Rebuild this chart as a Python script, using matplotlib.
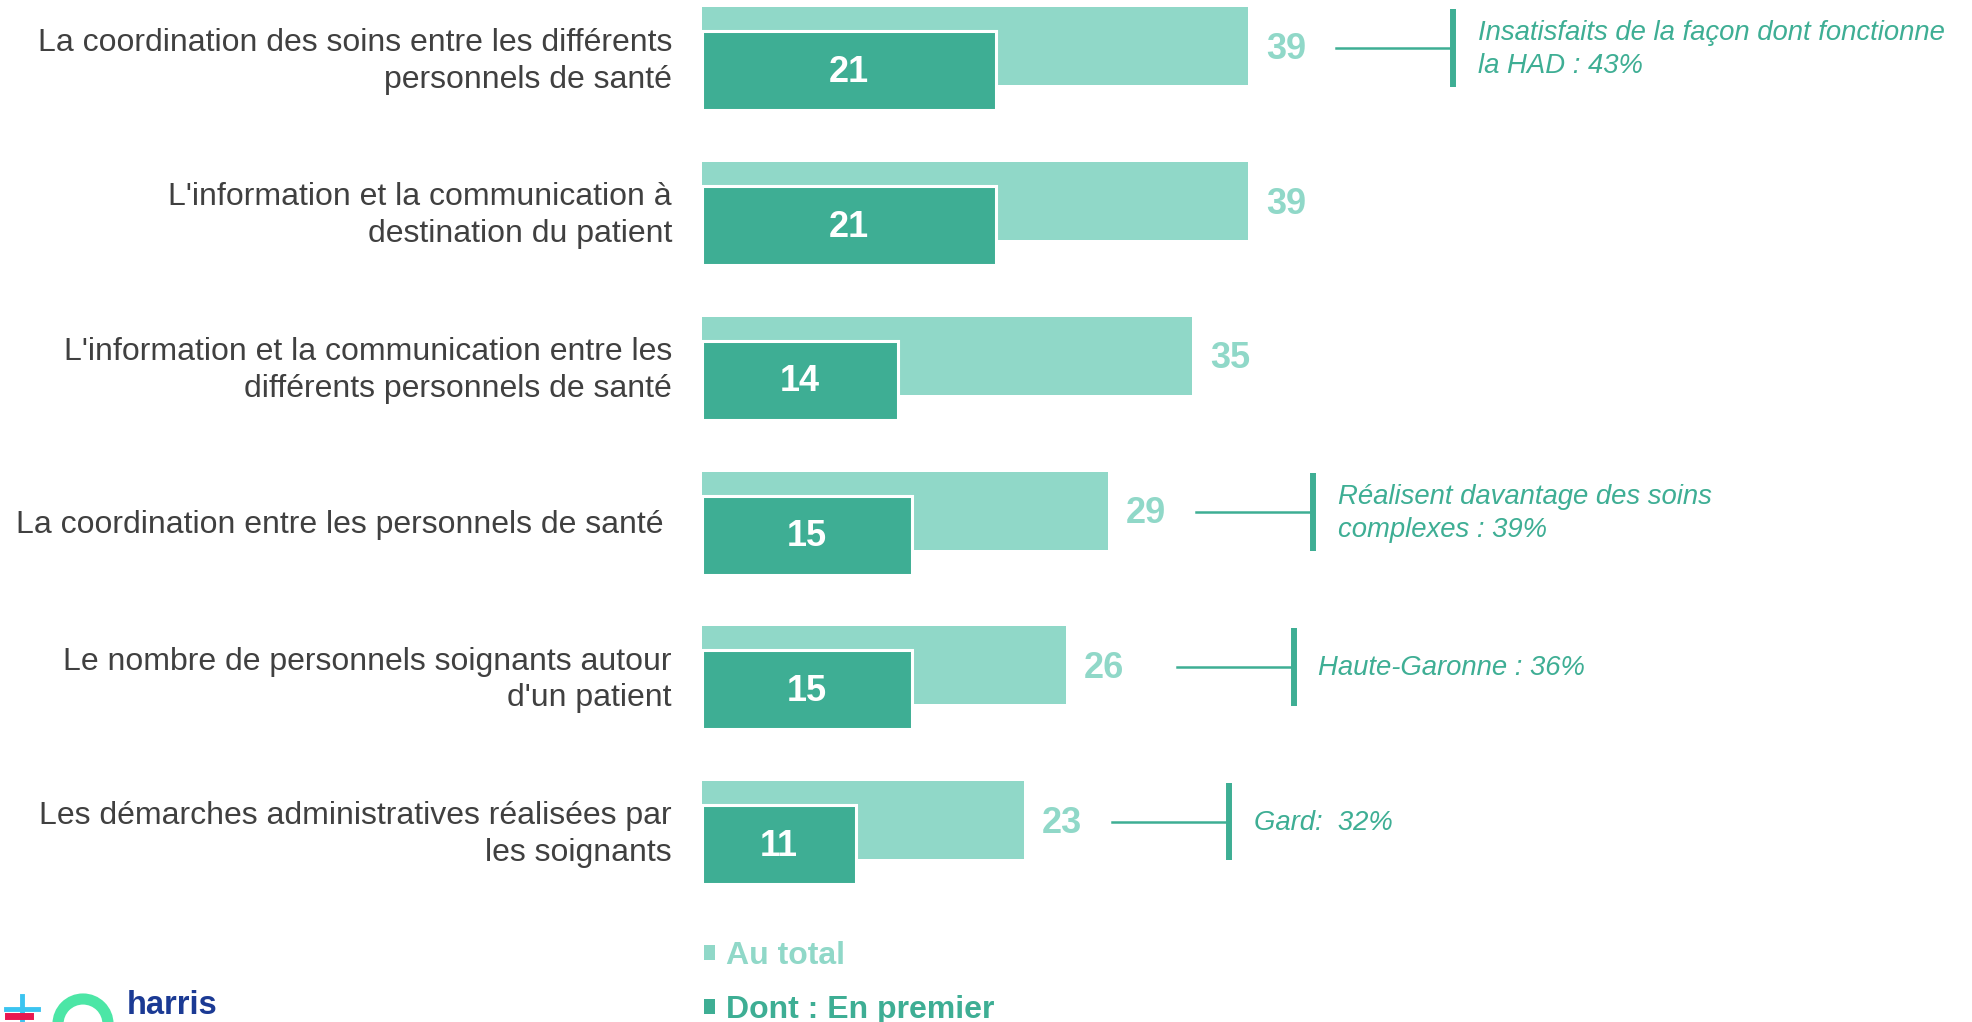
import matplotlib
matplotlib.use("Agg")
import matplotlib.patches as mpatches
import matplotlib.pyplot as plt
from matplotlib.lines import Line2D

# ── Data ──
categories = [
    "La coordination des soins entre les différents\npersonnels de santé",
    "L'information et la communication à\ndestination du patient",
    "L'information et la communication entre les\ndifférents personnels de santé",
    "La coordination entre les personnels de santé ",
    "Le nombre de personnels soignants autour\nd'un patient",
    "Les démarches administratives réalisées par\nles soignants",
]
total = [39, 39, 35, 29, 26, 23]
first = [21, 21, 14, 15, 15, 11]
callouts = {
    0: "Insatisfaits de la façon dont fonctionne\nla HAD : 43%",
    3: "Réalisent davantage des soins\ncomplexes : 39%",
    4: "Haute-Garonne : 36%",
    5: "Gard:  32%",
}
legend_labels = ["Au total", "Dont : En premier"]

# ── Style ──
C_LIGHT = "#90D8C8"
C_DARK = "#3EAE94"
C_TEXT = "#404040"
C_LOGO = "#1B3A94"
FONT = "Liberation Sans"

W, H, DPI = 1972, 1022, 100
PX_PER_UNIT = 14.0
ROW_PX = 154.7
ROW0_PX = 46.5

fig = plt.figure(figsize=(W / DPI, H / DPI), dpi=DPI)
fig.patch.set_facecolor("white")

left_px = 702
ax = fig.add_axes([left_px / W, 0, 1 - left_px / W, 1])
ax.set_xlim(0, (W - left_px) / PX_PER_UNIT)
ax.set_ylim((H - ROW0_PX) / ROW_PX, -ROW0_PX / ROW_PX)
ax.axis("off")

y = list(range(len(categories)))
light_h = 78 / ROW_PX
dark_h = 79 / ROW_PX
dark_off = 24.5 / ROW_PX

ax.barh(y, total, height=light_h, color=C_LIGHT, align="center", zorder=1)
ax.barh([i + dark_off for i in y], first, height=dark_h, color=C_DARK,
        edgecolor="white", linewidth=2.2, align="center", zorder=2)

for i, (t, f) in enumerate(zip(total, first)):
    ax.text(t + 1.3, i + 0.02, f"{t}", color=C_LIGHT, fontsize=26, fontweight="bold",
            family=FONT, ha="left", va="center")
    ax.text(f / 2, i + dark_off + 0.01, f"{f}", color="white", fontsize=26, fontweight="bold",
            family=FONT, ha="center", va="center", zorder=3)
    ax.text(-2.15, i + 0.095, categories[i], color=C_TEXT, fontsize=23, family=FONT,
            ha="right", va="center", linespacing=1.3, clip_on=False)

# ── Callouts ──
extra_gap = {4: 1.6}
line_len = 117 / PX_PER_UNIT
for i, txt in callouts.items():
    x0 = total[i] + 6.3 + extra_gap.get(i, 0)
    x1 = x0 + line_len
    yc = i + 0.01
    ax.add_line(Line2D([x0, x1], [yc, yc], color=C_DARK, linewidth=1.8))
    ax.add_line(Line2D([x1, x1], [yc - 0.25, yc + 0.25], color=C_DARK, linewidth=4.3,
                       solid_capstyle="butt"))
    ax.text(x1 + 1.75, yc + 0.01, txt, color=C_DARK, fontsize=19.8, style="italic",
            family=FONT, ha="left", va="center", linespacing=1.38)

# ── Legend ──
handles = [
    mpatches.Patch(facecolor=C_LIGHT, label=legend_labels[0]),
    mpatches.Patch(facecolor=C_DARK, label=legend_labels[1]),
]
fig.legend(
    handles=handles,
    loc="upper left",
    bbox_to_anchor=(704 / W, 1 - 941 / H),
    frameon=False,
    prop={"family": FONT, "weight": "bold", "size": 23},
    labelcolor=[C_LIGHT, C_DARK],
    handlelength=0.35,
    handleheight=0.35,
    handletextpad=0.35,
    labelspacing=0.75,
    borderpad=0,
    borderaxespad=0,
)

# ── Logo ──
fig.text(127 / W, 1 - 1014 / H, "harris", color=C_LOGO, fontsize=23.5, fontweight="bold",
         family=FONT, ha="left", va="baseline")
arc = mpatches.Arc((83 / W, 1 - 1024 / H), 50 / W, 50 / H, theta1=0, theta2=180,
                   color="#4CE6A6", linewidth=8, transform=fig.transFigure)
fig.patches.append(arc)
fig.add_artist(Line2D([22 / W, 22 / W], [1 - 996 / H, 1 - 1022 / H], color="#3BC4F0",
                      linewidth=3.5, transform=fig.transFigure))
fig.add_artist(Line2D([6 / W, 38 / W], [1 - 1009 / H, 1 - 1009 / H], color="#3BC4F0",
                      linewidth=3.5, transform=fig.transFigure))
fig.add_artist(Line2D([8 / W, 30 / W], [1 - 1016 / H, 1 - 1016 / H], color="#E8174F",
                      linewidth=5, transform=fig.transFigure))

fig.savefig("out.png", dpi=DPI, facecolor="white")
plt.close(fig)
